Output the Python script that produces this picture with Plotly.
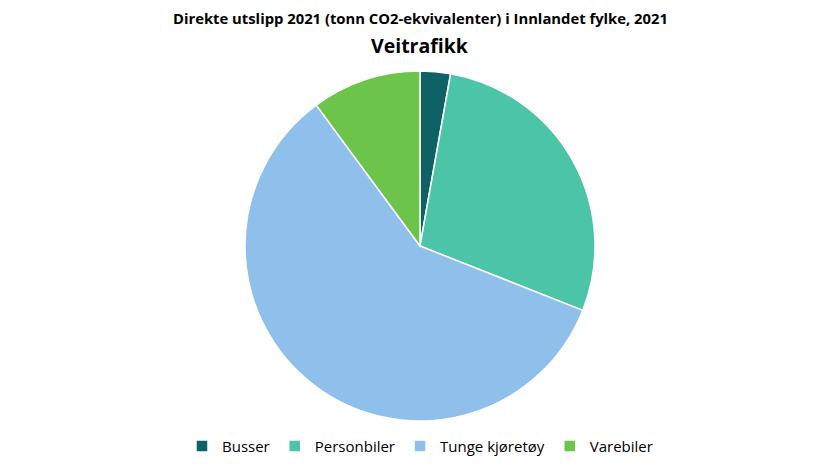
import plotly.graph_objs as go

# Andeler av utslipp fra veitrafikk (estimert fra figuren)
kategorier = ["Busser", "Personbiler", "Tunge kjøretøy", "Varebiler"]
utslipp = [2.8, 28.2, 58.9, 10.1]
farger = ["#0E6266", "#4BC4A8", "#8FBFEB", "#6CC54A"]

fig = go.Figure()

fig.add_trace(go.Pie(
    labels=kategorier,
    values=utslipp,
    sort=False,
    direction="clockwise",
    rotation=0,
    textinfo="none",
    hoverinfo="label+percent",
    marker=dict(colors=farger, line=dict(color="white", width=1.5)),
))

# siden får 8px marg i nettleseren, så vi trekker det fra her
topp, bunn = 63, 55
hoyde_plot = 468 - topp - bunn


def y_fra_topp(py):
    # py er pikselposisjon fra toppen av bildet
    return 1 + (topp + 8 - py) / hoyde_plot


fig.update_layout(
    width=840,
    height=468,
    paper_bgcolor="white",
    margin=dict(l=0, r=16, t=topp, b=bunn),
    font=dict(family="Open Sans, Liberation Sans, sans-serif", color="#000000"),
    showlegend=True,
    legend=dict(
        orientation="h",
        x=0.5, xanchor="center",
        y=-0.025, yanchor="top",
        font=dict(size=15),
        itemwidth=30,
        traceorder="normal",
    ),
    annotations=[
        dict(text="<b>Direkte utslipp 2021 (tonn CO2-ekvivalenter) i Innlandet fylke, 2021</b>",
             x=0.5, y=y_fra_topp(18), xref="paper", yref="paper", yanchor="middle",
             showarrow=False, font=dict(size=14.8)),
        dict(text="<b>Veitrafikk</b>",
             x=0.5, y=y_fra_topp(45), xref="paper", yref="paper", yanchor="middle",
             showarrow=False, font=dict(size=19.5)),
    ],
)

fig.write_html("out.html")
